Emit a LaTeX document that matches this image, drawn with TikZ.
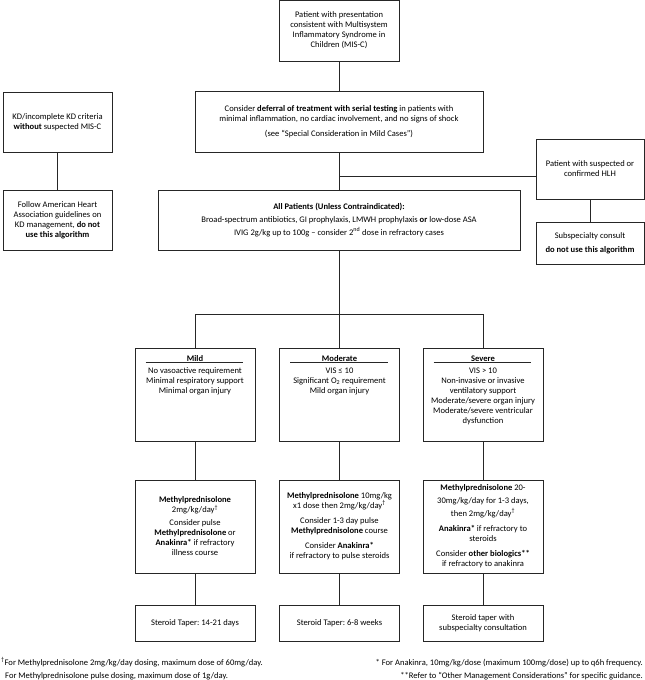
\documentclass[tikz,border=0pt]{standalone}
\usepackage{fontspec}
\setmainfont{Carlito}
\frenchspacing
\newcommand\dgfs{\fontsize{8.55}{10}\selectfont}
\begin{document}
\begin{tikzpicture}[x=1pt,y=-1pt,
  box/.style={draw=black!85, line width=0.8pt, inner sep=0pt, align=center, font=\dgfs},
  txt/.style={inner sep=0pt, align=center, font=\dgfs},
  conn/.style={draw=black!85, line width=0.8pt}]
\useasboundingbox (0,0) rectangle (645,680);
% top
\node[box, minimum width=120pt, minimum height=61pt] (top) at (339,30.5)
  {Patient with presentation\\consistent with Multisystem\\Inflammatory Syndrome in\\Children (MIS-C)};
\node[box, minimum width=288pt, minimum height=61pt] (defer) at (339,121.5)
  {Consider \textbf{deferral of treatment with serial testing} in patients with\\minimal inflammation, no cardiac involvement, and no signs of shock\\[5pt](see “Special Consideration in Mild Cases”)};
\node[box, minimum width=109pt, minimum height=60pt] (kd) at (57.5,122)
  {KD/incomplete KD criteria\\\textbf{without} suspected MIS-C};
\node[box, minimum width=109pt, minimum height=60pt] (aha) at (57.5,220)
  {Follow American Heart\\Association guidelines on\\KD management, \textbf{do not}\\\textbf{use this algorithm}};
\node[box, minimum width=108pt, minimum height=60pt] (hlh) at (590,169)
  {Patient with suspected or\\confirmed HLH};
\node[box, minimum width=108pt, minimum height=42pt] (sub) at (590,243)
  {Subspecialty consult\\[4pt]\textbf{do not use this algorithm}};
\node[box, minimum width=362pt, minimum height=60pt] (all) at (339,220)
  {\textbf{All Patients (Unless Contraindicated):}\\[3pt]Broad-spectrum antibiotics, GI prophylaxis, LMWH prophylaxis \textbf{or} low-dose ASA\\[3pt]IVIG 2g/kg up to 100g -- consider 2\textsuperscript{nd} dose in refractory cases};
% severity
\node[box, minimum width=120pt, minimum height=93pt] (mild) at (195,394.5) {};
\node[box, minimum width=120pt, minimum height=93pt] (mod) at (339.5,394.5) {};
\node[box, minimum width=120pt, minimum height=93pt] (sev) at (483,394.5) {};
\node[txt, anchor=north] (mildt) at (195,355.5)
  {\textbf{Mild}\\[2pt]No vasoactive requirement\\Minimal respiratory support\\Minimal organ injury};
\node[txt, anchor=north] (modt) at (339.5,355.5)
  {\textbf{Moderate}\\[2pt]VIS ≤ 10\\Significant O\textsubscript{2} requirement\\Mild organ injury};
\node[txt, anchor=north] (sevt) at (483,355.5)
  {\textbf{Severe}\\[2pt]VIS > 10\\Non-invasive or invasive\\ventilatory support\\Moderate/severe organ injury\\Moderate/severe ventricular\\dysfunction};
\foreach \b in {mild,mod,sev}
  \draw[draw=black!85, line width=0.6pt] ([xshift=11pt,yshift=-15pt]\b.north west) -- ([xshift=-12pt,yshift=-15pt]\b.north east);
% treatment
\node[box, minimum width=120pt, minimum height=93pt] (mildtx) at (195,526.5)
  {\textbf{Methylprednisolone}\\2mg/kg/day\textsuperscript{†}\\[3pt]Consider pulse\\\textbf{Methylprednisolone} or\\\textbf{Anakinra*} if refractory\\illness course};
\node[box, minimum width=120pt, minimum height=93pt] (modtx) at (339.5,526.5)
  {\textbf{Methylprednisolone} 10mg/kg\\x1 dose then 2mg/kg/day\textsuperscript{†}\\[5pt]Consider 1-3 day pulse\\\textbf{Methylprednisolone} course\\[5pt]Consider \textbf{Anakinra*}\\if refractory to pulse steroids};
\node[box, minimum width=120pt, minimum height=93pt] (sevtx) at (483,526.5)
  {\textbf{Methylprednisolone} 20-\\[3pt]30mg/kg/day for 1-3 days,\\[3pt]then 2mg/kg/day\textsuperscript{†}\\[5pt]\textbf{Anakinra*} if refractory to\\steroids\\[5pt]Consider \textbf{other biologics**}\\if refractory to anakinra};
% taper
\node[box, minimum width=120pt, minimum height=36pt] (mildtp) at (195,623) {Steroid Taper: 14-21 days};
\node[box, minimum width=120pt, minimum height=36pt] (modtp) at (339.5,623) {Steroid Taper: 6-8 weeks};
\node[box, minimum width=120pt, minimum height=36pt] (sevtp) at (483,623) {Steroid taper with\\subspecialty consultation};
% connectors
\draw[conn] (top.south) -- (top.south |- defer.north);
\draw[conn] (kd) -- (aha);
\draw[conn] (defer.south) -- (defer.south |- all.north);
\coordinate (j1) at (339,176);
\draw[conn] (j1) -- (j1 -| hlh.west);
\draw[conn] (hlh) -- (sub);
\coordinate (j2) at (339.5,314);
\draw[conn] (all.south) -- (all.south |- j2);
\draw[conn] (mild.north) -- (mild.north |- j2) -- (sev.north |- j2) -- (sev.north);
\draw[conn] (j2) -- (mod.north);
\draw[conn] (mild) -- (mildtx);
\draw[conn] (mod) -- (modtx);
\draw[conn] (sev) -- (sevtx);
\draw[conn] (mildtx) -- (mildtp);
\draw[conn] (modtx) -- (modtp);
\draw[conn] (sevtx) -- (sevtp);
% footnotes
\node[txt, anchor=base west] (fn1) at (1,665) {\textsuperscript{†}For Methylprednisolone 2mg/kg/day dosing, maximum dose of 60mg/day.};
\node[txt, anchor=base west] (fn2) at (5,678) {For Methylprednisolone pulse dosing, maximum dose of 1g/day.};
\node[txt, anchor=base east] (fn3) at (643,665) {* For Anakinra, 10mg/kg/dose (maximum 100mg/dose) up to q6h frequency.};
\node[txt, anchor=base east] (fn4) at (643,678) {**Refer to “Other Management Considerations” for specific guidance.};
\end{tikzpicture}
\end{document}
